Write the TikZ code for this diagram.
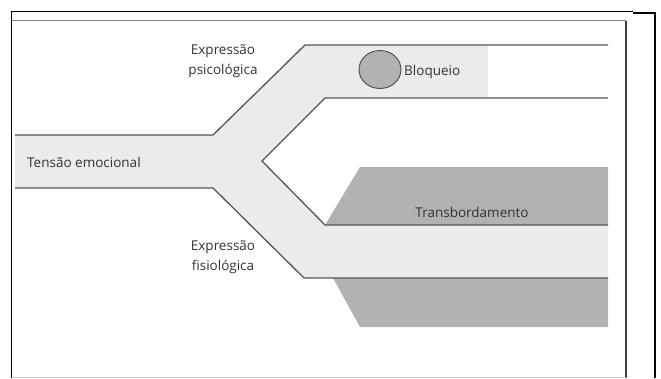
\documentclass[tikz,border=0pt]{standalone}
\usepackage{fontspec}
\setmainfont{Open Sans}
\usepackage{tikz}
\usetikzlibrary{shapes.geometric}
\definecolor{bandgray}{HTML}{EBEBEB}
\definecolor{overgray}{HTML}{B2B2B2}
\definecolor{edgegray}{HTML}{555555}
\definecolor{textgray}{HTML}{333333}
\tikzstyle{every node}=[inner sep=0pt, text=textgray, font=\fontsize{13.5}{20}\selectfont]
\tikzset{edge/.style={draw=edgegray, line width=1.3pt},
  label/.style={align=center}}

\begin{document}
\begin{tikzpicture}[x=1pt, y=-1pt]
    \useasboundingbox (0,0) rectangle (661,378);
    % frame
    \draw[black, line width=1pt] (11.5,378) -- (11.5,11.5) -- (633,11.5);
    \draw[black, line width=2pt] (633,12.5) -- (654.5,12.5) -- (654.5,378);
    \draw[gray, line width=1.5pt] (11.5,20.5) -- (626,20.5);
    \draw[black!75, line width=1.5pt] (626,20.5) -- (626,378);
    \draw[black!20, line width=1pt] (11.5,377.5) -- (626,377.5);
    % channel
    \fill[bandgray] (15,135) -- (213,135) -- (305,45) -- (488,45) -- (488,98)
      -- (325,98) -- (262,161) -- (325,225) -- (608,225) -- (608,278)
      -- (304,278) -- (213,188) -- (15,188) -- cycle;
    \fill[overgray] (360,167) -- (608,167) -- (608,225) -- (325,225) -- cycle;
    \fill[overgray] (333,278) -- (608,278) -- (608,327) -- (360,327) -- cycle;
    \draw[edge] (15,135) -- (213,135) -- (305,45) -- (608,45);
    \draw[edge] (608,98) -- (325,98) -- (262,161) -- (325,225) -- (608,225);
    \draw[edge] (15,188) -- (213,188) -- (304,278) -- (608,278);
    % labels
    \node[draw=edgegray, fill=overgray, line width=1pt, ellipse, minimum width=42pt, minimum height=38pt] (block) at (380,69.5) {};
    \node[anchor=west] (bloqueio) at (404,72) {Bloqueio};
    \node[anchor=west] (tensao) at (27,162) {Tensão emocional};
    \node[label] (psico) at (223,61) {Expressão\\psicológica};
    \node[label] (fisio) at (223,257) {Expressão\\fisiológica};
    \node (transb) at (472,212) {Transbordamento};
  \end{tikzpicture}
\end{document}
